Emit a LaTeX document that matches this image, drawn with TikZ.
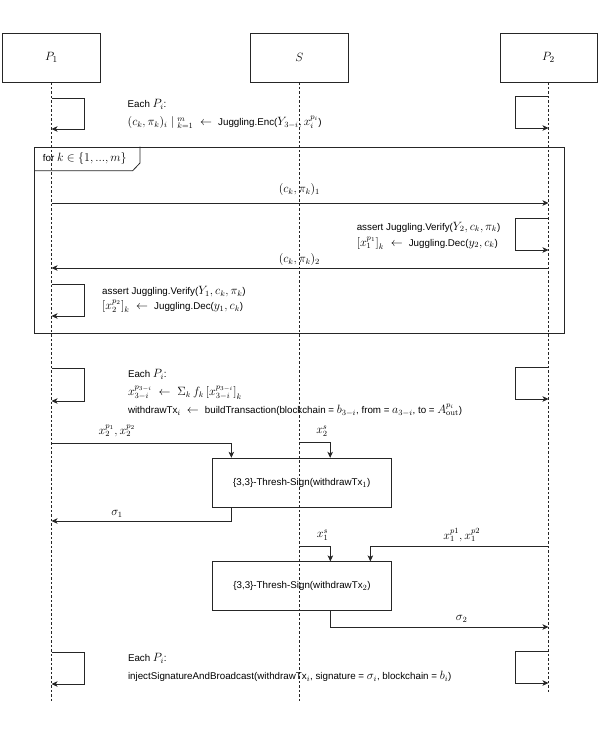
\documentclass[tikz,border=0pt]{standalone}
\usepackage[no-math]{fontspec}
\setmainfont[Scale=0.85]{Liberation Sans}
\usetikzlibrary{arrows.meta,positioning,calc}
\tikzset{lifebox/.style={draw=black!85,line width=0.8pt,minimum width=98pt,minimum height=49pt,inner sep=0pt,font=\fontsize{12.5}{14}\selectfont},lifeline/.style={draw=black!85,line width=0.7pt,dash pattern=on 2.5pt off 2pt},msgarr/.style={-{Stealth[length=6pt,width=5.5pt,inset=1.6pt]},line width=0.8pt,draw=black!85},signbox/.style={draw=black!85,line width=0.8pt,minimum width=179.5pt,minimum height=49pt,font=\fontsize{11.5}{13}\selectfont},notetext/.style={anchor=north west,inner sep=0pt,align=left,font=\fontsize{11.5}{18}\selectfont},msglabel/.style={inner sep=0pt,font=\fontsize{11.5}{13}\selectfont}}
\begin{document}
\begin{tikzpicture}[x=1pt,y=-1pt]
\useasboundingbox (0,0) rectangle (598,730);
\node[lifebox] (p1) at (51.5,57.5) {$P_1$};
\node[lifebox] (s) at (299.4,57.5) {$S$};
\node[lifebox,minimum width=97pt] (p2) at (548.5,57.5) {$P_2$};
\foreach \n/\e in {p1/702,s/702,p2/693} \draw[lifeline] (\n.south) -- (\n.south |- 0,\e);
% self messages on the two parties
\foreach \ya/\yb in {98/129,284/316,368/401,652/684} \draw[msgarr] (p1.south |- 0,\ya) -| (84,\yb) -- (p1.south |- 0,\yb);
\foreach \ya/\yb in {96/128,218/250,367/399,651/683} \draw[msgarr] (p2.south |- 0,\ya) -| (515,\yb) -- (p2.south |- 0,\yb);
\node[notetext] (note1) at (127.5,99) {Each $P_i$:\\ $(c_k, \pi_k)_i \mid{}^{m}_{k=1} \;\leftarrow\;$ Juggling.Enc($Y_{3-i}, x_i^{p_i}$)};
% loop frame
\node[draw=black!85,line width=0.8pt,minimum width=530pt,minimum height=186.3pt,anchor=north west,inner sep=0pt] (loopframe) at (34.3,146.7) {};
\draw[line width=0.8pt,draw=black!85] (loopframe.north west) ++(0,24) -- ++(98.4,0) -- ++(7.3,-7.7) -- ++(0,-16.3);
\node[msglabel,anchor=west] (looplabel) at (42.7,158.5) {for $k\in\{1, ..., m\}$};
\draw[msgarr] (p1.south |- 0,203) -- (p2.south |- 0,203);
\node[msglabel] (c1) at (299.4,190) {$(c_k, \pi_k)_1$};
\node[notetext,font=\fontsize{11.5}{16}\selectfont] (verify2) at (356.6,221.6) {assert Juggling.Verify($Y_2, c_k, \pi_k$)\\ $\left[x_1^{p_1}\right]_k \;\leftarrow\;$ Juggling.Dec($y_2, c_k$)};
\draw[msgarr] (p2.south |- 0,268) -- (p1.south |- 0,268);
\node[msglabel] (c2) at (299.4,259.5) {$(c_k, \pi_k)_2$};
\node[notetext,font=\fontsize{11.5}{15}\selectfont] (verify1) at (102,286) {assert Juggling.Verify($Y_1, c_k, \pi_k$)\\ $\left[x_2^{p_2}\right]_k \;\leftarrow\;$ Juggling.Dec($y_1, c_k$)};
% signing
\node[notetext] (note2) at (127.8,369) {Each $P_i$:\\ $x_{3-i}^{p_{3-i}} \;\leftarrow\; \Sigma_k\, f_k \left[x_{3-i}^{p_{3-i}}\right]_k$\\ withdrawTx$_i$ $\;\leftarrow\;$ buildTransaction(blockchain = $b_{3-i}$, from = $a_{3-i}$, to = $A_{\mathrm{out}}^{p_i}$)};
\node[signbox] (sign1) at (301.8,482.7) {\{3,3\}-Thresh-Sign(withdrawTx$_1$)};
\node[signbox] (sign2) at (302,586.3) {\{3,3\}-Thresh-Sign(withdrawTx$_2$)};
\draw[msgarr] (p1.south |- 0,443) -| ($(sign1.north west)+(19.7,0)$);
\draw[msgarr] (s.south |- 0,442) -| ($(sign1.north west)+(118.5,0)$);
\draw[msgarr] ($(sign1.south west)+(19.7,0)$) |- (p1.south |- 0,521);
\draw[msgarr] (s.south |- 0,546) -| ($(sign2.north west)+(118.5,0)$);
\draw[msgarr] (p2.south |- 0,546) -| ($(sign2.north west)+(158.5,0)$);
\draw[msgarr] ($(sign2.south west)+(118.5,0)$) |- (p2.south |- 0,627);
\node[msglabel] (sh1) at (117,431) {$x_2^{p_1}, x_2^{p_2}$};
\node[msglabel] (ss2) at (322,431.5) {$x_2^{s}$};
\node[msglabel] (sig1) at (117,514) {$\sigma_1$};
\node[msglabel] (ss1) at (322.7,535) {$x_1^{s}$};
\node[msglabel] (sh2) at (461.7,535) {$x_1^{p1}, x_1^{p2}$};
\node[msglabel] (sig2) at (461.7,619) {$\sigma_2$};
\node[notetext] (note3) at (127.8,652.8) {Each $P_i$:\\ injectSignatureAndBroadcast(withdrawTx$_i$, signature = $\sigma_i$, blockchain = $b_i$)};
\end{tikzpicture}
\end{document}
